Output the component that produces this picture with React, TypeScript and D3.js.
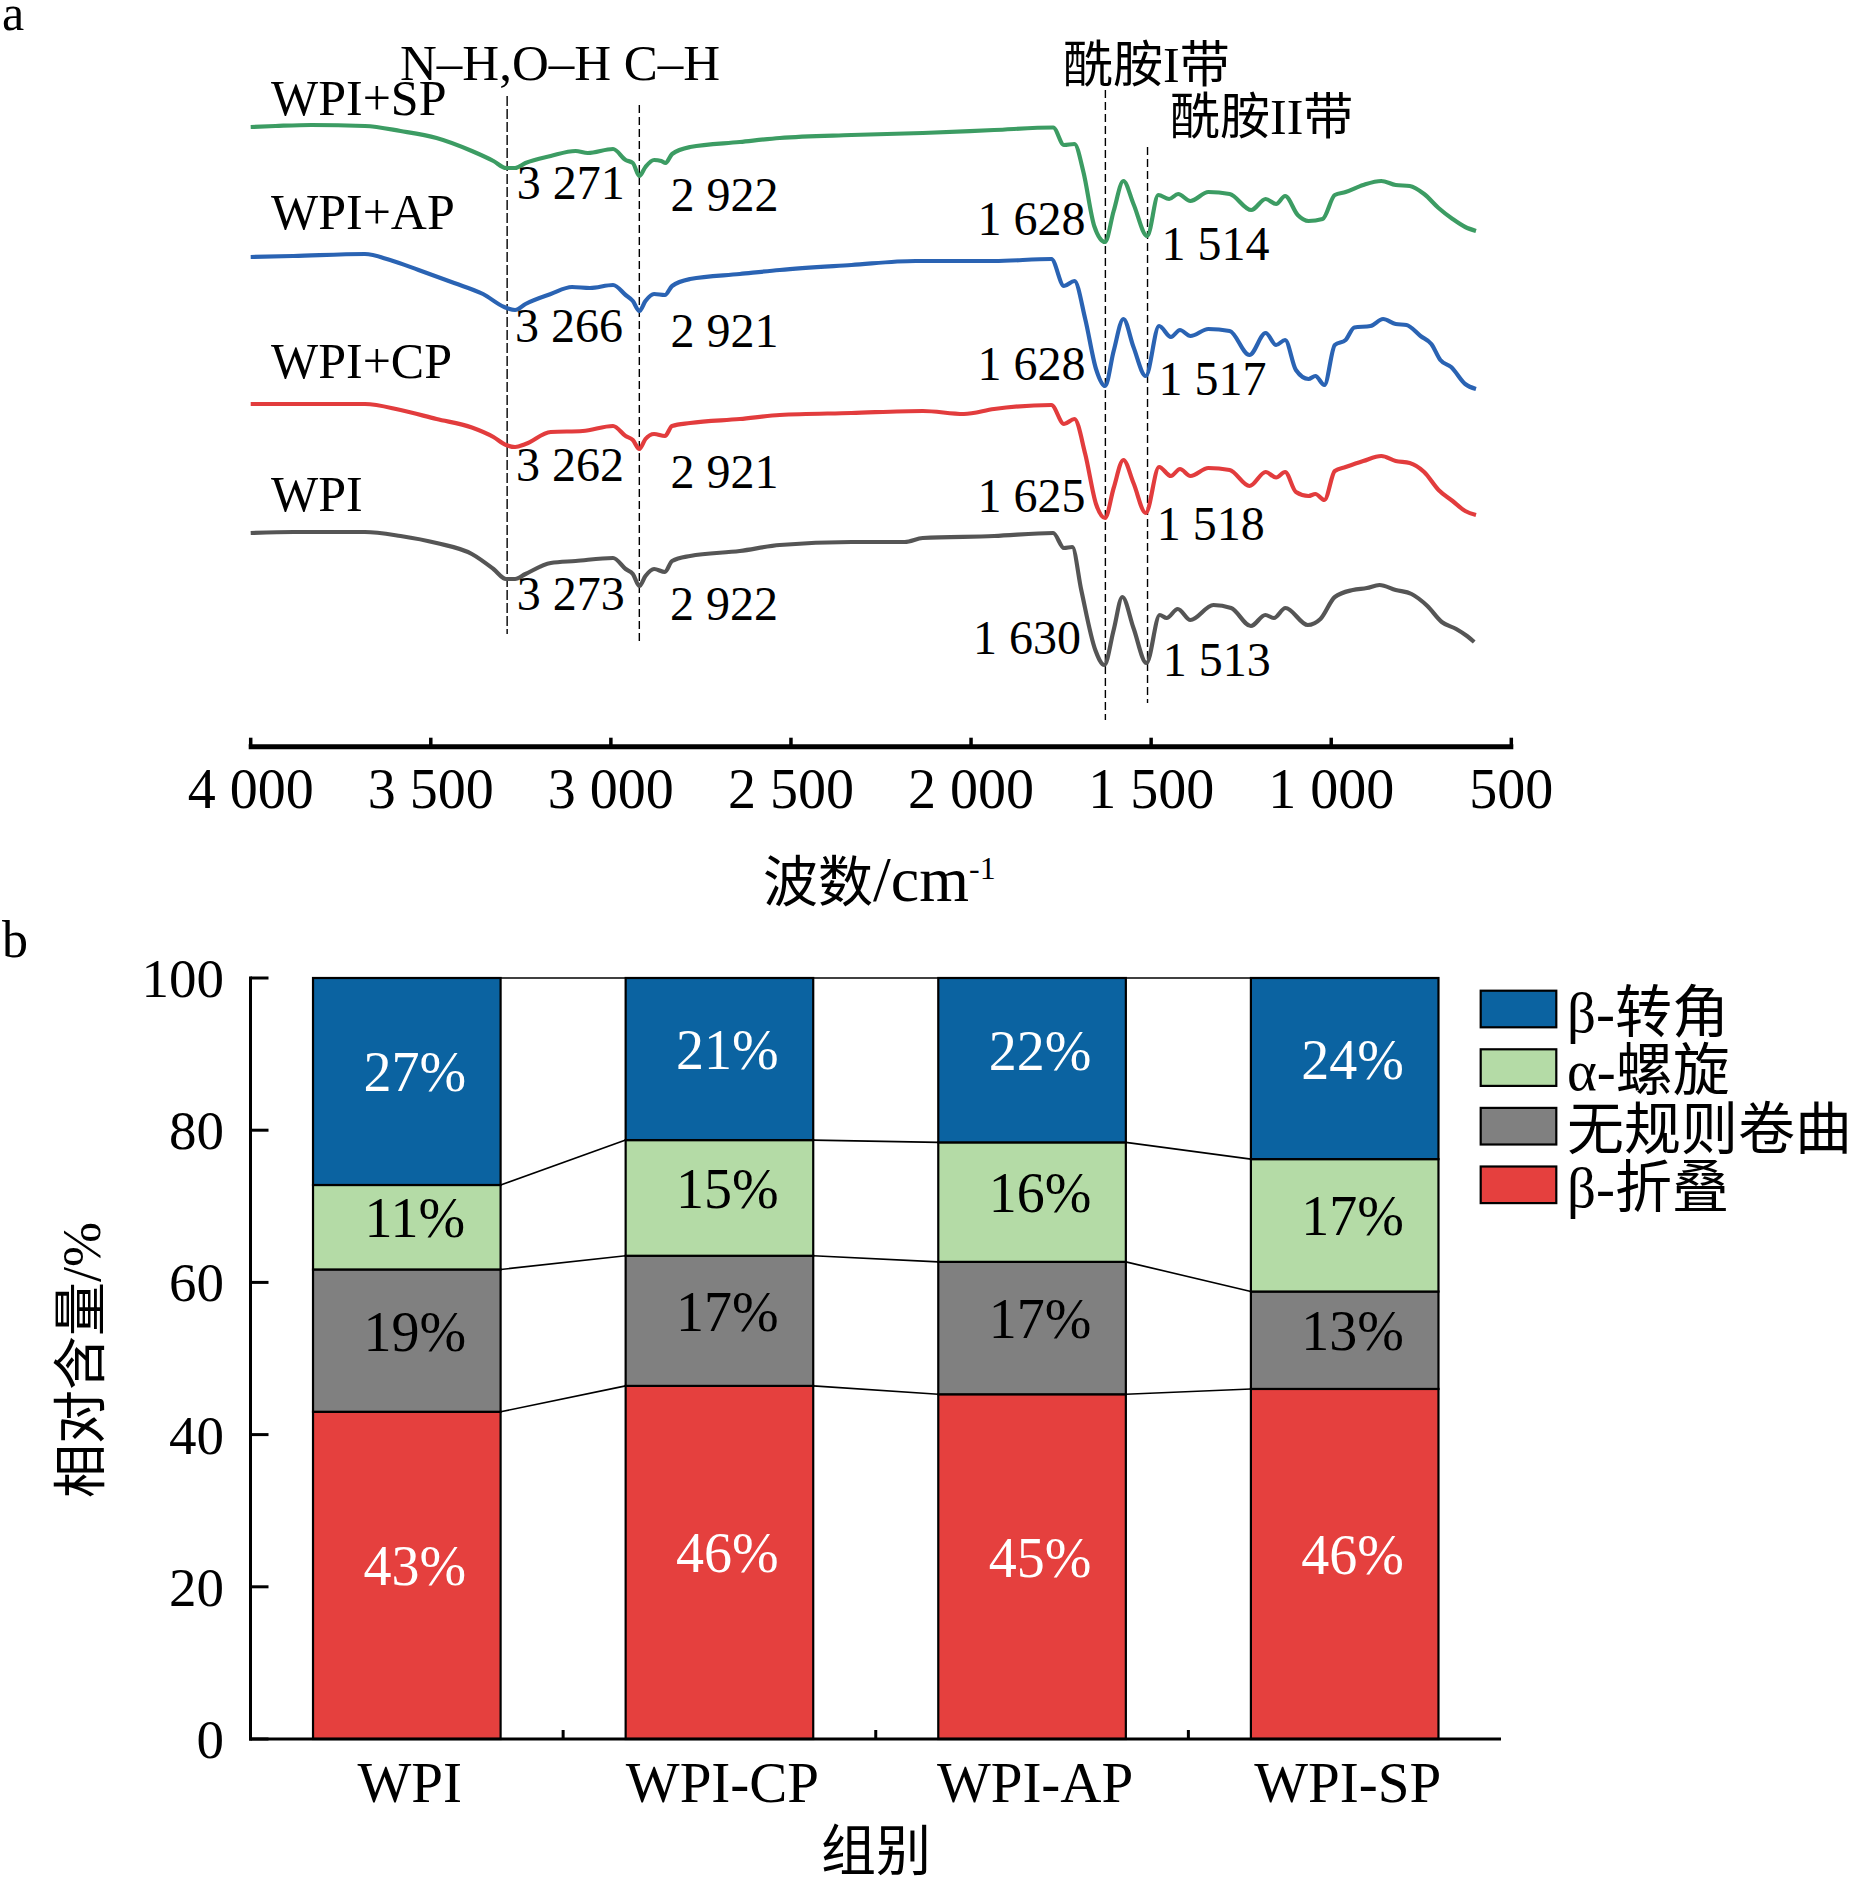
import React from "react";
import * as d3 from "d3";

const W = 1852;
const H = 1881;
const SERIF = "'Liberation Serif', 'Times New Roman', 'Noto Sans CJK SC', serif";

// ---------- Panel a: FTIR spectra (wavenumber cm-1, relative transmittance a.u.) ----------
const specSP: [number, number][] = [
  [4000, 62.3], [3931, 62.4], [3832, 62.5], [3683, 62.4], [3584, 61.9], [3484, 61.2], [3386, 59.9],
  [3326, 58.9], [3291, 58.2], [3266, 58.2], [3237, 58.7], [3167, 59.4], [3098, 59.9], [3064, 59.7],
  [2994, 60.1], [2959, 59.0], [2939, 58.7], [2921, 57.4], [2904, 58.3], [2880, 59.0], [2860, 58.9],
  [2848, 58.7], [2830, 59.6], [2780, 60.3], [2642, 60.8], [2531, 61.2], [2332, 61.5], [2134, 61.7],
  [1936, 62.0], [1772, 62.25], [1742, 60.5], [1713, 60.6], [1688, 57.8], [1658, 52.4], [1628, 50.8],
  [1604, 53.9], [1577, 56.9], [1549, 54.6], [1511, 51.4], [1480, 55.5], [1450, 55.1], [1425, 55.6],
  [1391, 54.9], [1341, 55.8], [1282, 55.6], [1222, 54.0], [1182, 55.1], [1153, 54.6], [1128, 55.4],
  [1093, 53.5], [1063, 52.9], [1024, 53.1], [990, 55.5], [960, 55.8], [911, 56.5], [861, 56.9],
  [821, 56.5], [782, 56.4], [742, 55.6], [702, 54.2], [663, 53.1], [628, 52.3], [598, 51.9],
];
const specAP: [number, number][] = [
  [4000, 49.3], [3881, 49.4], [3683, 49.6], [3613, 49.0], [3534, 48.0], [3435, 46.7], [3355, 45.6],
  [3296, 44.3], [3266, 44.0], [3237, 44.6], [3167, 45.6], [3108, 46.3], [3058, 46.2], [2994, 46.5],
  [2959, 45.5], [2939, 44.9], [2921, 43.9], [2904, 44.9], [2880, 45.6], [2850, 45.5], [2830, 46.4],
  [2780, 47.1], [2642, 47.6], [2531, 48.0], [2332, 48.5], [2154, 48.9], [1936, 48.9], [1777, 49.1],
  [1742, 46.4], [1713, 46.9], [1683, 43.1], [1653, 38.1], [1628, 36.4], [1604, 39.9], [1577, 43.1],
  [1549, 40.3], [1515, 37.4], [1478, 42.4], [1445, 41.3], [1420, 42.0], [1391, 41.4], [1341, 42.1],
  [1282, 41.9], [1227, 39.5], [1182, 41.7], [1153, 40.5], [1128, 41.0], [1098, 38.0], [1063, 37.1],
  [1044, 37.4], [1019, 36.5], [990, 40.5], [960, 41.0], [936, 42.25], [891, 42.4], [856, 43.1],
  [821, 42.6], [791, 42.5], [752, 41.4], [722, 40.6], [697, 39.0], [667, 38.3], [628, 36.6], [598, 36.1],
];
const specCP: [number, number][] = [
  [4000, 34.6], [3881, 34.6], [3683, 34.6], [3584, 34.0], [3484, 33.1], [3386, 32.25], [3326, 31.3],
  [3291, 30.5], [3266, 30.3], [3237, 30.6], [3167, 31.8], [3078, 31.9], [2994, 32.4], [2959, 31.4],
  [2939, 31.0], [2921, 30.1], [2904, 31.1], [2880, 31.6], [2850, 31.4], [2830, 32.4], [2780, 32.7],
  [2642, 33.1], [2531, 33.5], [2332, 33.7], [2134, 33.9], [2020, 33.6], [1936, 34.1], [1777, 34.5],
  [1742, 32.6], [1713, 33.1], [1683, 29.6], [1653, 24.6], [1628, 23.2], [1604, 26.2], [1577, 29.0],
  [1549, 26.7], [1515, 23.7], [1478, 28.3], [1445, 27.4], [1420, 28.1], [1391, 27.4], [1341, 28.2],
  [1282, 28.0], [1227, 26.4], [1182, 27.8], [1153, 27.25], [1128, 27.8], [1098, 25.8], [1063, 25.4],
  [1044, 25.6], [1019, 25.0], [990, 27.9], [960, 28.3], [911, 28.9], [861, 29.4], [821, 28.9],
  [782, 28.7], [742, 27.8], [702, 26.0], [663, 24.9], [628, 23.9], [598, 23.5],
];
const specWPI: [number, number][] = [
  [4000, 21.7], [3881, 21.8], [3683, 21.8], [3584, 21.4], [3484, 20.7], [3386, 19.6], [3326, 18.1],
  [3291, 17.1], [3266, 17.1], [3237, 17.6], [3167, 18.7], [3098, 18.9], [2994, 19.2], [2959, 18.1],
  [2939, 17.6], [2921, 16.4], [2904, 17.4], [2880, 18.1], [2850, 17.8], [2830, 18.9], [2780, 19.4],
  [2642, 19.9], [2531, 20.5], [2332, 20.8], [2184, 20.8], [2134, 21.2], [1936, 21.4], [1772, 21.7],
  [1742, 20.2], [1719, 20.3], [1694, 16.0], [1655, 10.0], [1630, 8.5], [1604, 12.0], [1580, 15.3],
  [1549, 12.2], [1513, 8.7], [1476, 13.5], [1457, 13.2], [1426, 14.1], [1391, 13.0], [1327, 14.5],
  [1278, 14.2], [1223, 12.4], [1183, 13.5], [1159, 13.2], [1127, 14.2], [1065, 12.5], [1030, 13.1],
  [990, 15.3], [940, 16.0], [901, 16.2], [866, 16.5], [821, 16.0], [777, 15.6], [733, 14.4],
  [693, 12.8], [653, 12.1], [623, 11.4], [603, 10.8],
];

const spectraNames = ["WPI+SP", "WPI+AP", "WPI+CP", "WPI"];
const spectraColors = ["#3c9c63", "#2a63b3", "#e23c3d", "#555555"];
const spectraData = [specSP, specAP, specCP, specWPI];
const peaksSP = [3271, 2922, 1628, 1514];
const peaksAP = [3266, 2921, 1628, 1517];
const peaksCP = [3262, 2921, 1625, 1518];
const peaksWPI = [3273, 2922, 1630, 1513];
const spectraPeaks = [peaksSP, peaksAP, peaksCP, peaksWPI];
const guideLines = [3288, 2921, 1627, 1510];
const xTicksA = [4000, 3500, 3000, 2500, 2000, 1500, 1000, 500];

// ---------- Panel b: secondary structure (%) ----------
const groups = ["WPI", "WPI-CP", "WPI-AP", "WPI-SP"];
const structureNames = ["β-折叠", "无规则卷曲", "α-螺旋", "β-转角"]; // bottom -> top
const betaSheet = [43.0, 46.4, 45.3, 46.0];
const randomCoil = [18.7, 17.1, 17.4, 12.8];
const alphaHelix = [11.1, 15.2, 15.7, 17.4];
const betaTurn = [27.2, 21.3, 21.6, 23.8];
const structureColors = ["#e5403e", "#808080", "#b4dba6", "#0b63a1"];
const labelColors = ["#ffffff", "#000000", "#000000", "#ffffff"];
const yTicksB = [0, 20, 40, 60, 80, 100];

// ---------- layout ----------
const LA = { left: 250.7, right: 1511.3, axisY: 746.7 };
const LB = { left: 250.5, right: 1501, top: 978, bottom: 1739 };

const spaceFmt = d3.formatLocale({ decimal: ".", thousands: " ", grouping: [3], currency: ["", ""] }).format(",");

const peakLayout: [number, number, string][][] = [
  [[516.8, 199, "start"], [670.4, 211.4, "start"], [1085.4, 234.6, "end"], [1161.4, 259.6, "start"]],
  [[515, 341.8, "start"], [670.4, 347.1, "start"], [1085.4, 380, "end"], [1158.6, 395.4, "start"]],
  [[516, 481, "start"], [670.4, 488.2, "start"], [1085.4, 512.1, "end"], [1156.8, 540, "start"]],
  [[516.8, 609.6, "start"], [670, 620.4, "start"], [1081, 654, "end"], [1162.7, 676, "start"]],
];
const nameLayout: [number, number][] = [[271, 115], [271, 229], [271, 377.5], [271, 510.7]];
const guideLayout: [number, number, string][] = [[96, 634, "10,3"], [105, 641, "8,4"], [90, 720, "8,4"], [147, 703, "8,4"]];

export default function App() {
  const xA = d3.scaleLinear().domain([4000, 500]).range([LA.left, LA.right]);
  const yA = d3.scaleLinear().domain([0, 75]).range([750, 0]);
  const line = d3
    .line<[number, number]>()
    .x((d) => xA(d[0]))
    .y((d) => yA(d[1]))
    .curve(d3.curveMonotoneX);

  const xB = d3.scaleBand<string>().domain(groups).range([LB.left, LB.right]).paddingInner(0.4).paddingOuter(0.2);
  const yB = d3.scaleLinear().domain([0, 100]).range([LB.bottom, LB.top]);
  const table = groups.map((g, i) => ({
    group: g,
    s0: betaSheet[i],
    s1: randomCoil[i],
    s2: alphaHelix[i],
    s3: betaTurn[i],
  }));
  const keys = ["s0", "s1", "s2", "s3"];
  const stacked = d3.stack<any>().keys(keys)(table);
  const bw = xB.bandwidth();

  return (
    <svg
      width={W}
      height={H}
      viewBox={`0 0 ${W} ${H}`}
      style={{ position: "absolute", left: 0, top: 0, background: "#fff" }}
      fontFamily={SERIF}
    >
      <rect x={0} y={0} width={W} height={H} fill="#fff" />

      {/* ===== Panel a ===== */}
      <text x={2} y={30} fontSize={50}>a</text>

      {guideLines.map((wn, i) => (
        <line
          key={"g" + i}
          x1={xA(wn)}
          x2={xA(wn)}
          y1={guideLayout[i][0]}
          y2={guideLayout[i][1]}
          stroke="#000"
          strokeWidth={1.4}
          strokeDasharray={guideLayout[i][2]}
        />
      ))}

      {spectraData.map((d, i) => (
        <path key={"s" + i} d={line(d) || ""} fill="none" stroke={spectraColors[i]} strokeWidth={4.2} strokeLinejoin="round" />
      ))}

      {spectraNames.map((n, i) => (
        <text key={"n" + i} x={nameLayout[i][0]} y={nameLayout[i][1]} fontSize={50}>
          {n}
        </text>
      ))}

      {spectraPeaks.map((pk, i) =>
        pk.map((wn, j) => (
          <text
            key={"p" + i + "-" + j}
            x={peakLayout[i][j][0]}
            y={peakLayout[i][j][1]}
            fontSize={48}
            textAnchor={peakLayout[i][j][2] as any}
          >
            {spaceFmt(wn)}
          </text>
        ))
      )}

      <text x={400} y={80} fontSize={51}>N–H,O–H C–H</text>
      <text x={1063} y={82} fontSize={50}>酰胺I带</text>
      <text x={1170} y={134} fontSize={50}>酰胺II带</text>

      {/* x axis a */}
      <line x1={LA.left - 2} x2={LA.right + 2} y1={LA.axisY} y2={LA.axisY} stroke="#000" strokeWidth={5} />
      {xTicksA.map((t) => (
        <g key={"xt" + t}>
          <line x1={xA(t)} x2={xA(t)} y1={LA.axisY} y2={LA.axisY - 9} stroke="#000" strokeWidth={3.5} />
          <text x={xA(t)} y={808} fontSize={56} textAnchor="middle">
            {spaceFmt(t)}
          </text>
        </g>
      ))}
      <text x={763} y={901}>
        <tspan fontSize={55}>波数</tspan>
        <tspan fontSize={64}>/cm</tspan>
        <tspan dy={-22} fontSize={32}>-1</tspan>
      </text>

      {/* ===== Panel b ===== */}
      <text x={2} y={957} fontSize={52}>b</text>

      {/* connecting lines */}
      {stacked.map((layer, k) =>
        layer.slice(0, -1).map((seg, i) => {
          const next = layer[i + 1];
          return (
            <line
              key={"c" + k + "-" + i}
              x1={(xB(groups[i]) as number) + bw}
              y1={yB(seg[1])}
              x2={xB(groups[i + 1]) as number}
              y2={yB(next[1])}
              stroke="#000"
              strokeWidth={1.6}
            />
          );
        })
      )}

      {stacked.map((layer, k) =>
        layer.map((seg, i) => (
          <rect
            key={"r" + k + "-" + i}
            x={xB(groups[i]) as number}
            y={yB(seg[1])}
            width={bw}
            height={yB(seg[0]) - yB(seg[1])}
            fill={structureColors[k]}
            stroke="#000"
            strokeWidth={2.2}
          />
        ))
      )}

      {stacked.map((layer, k) =>
        layer.map((seg, i) => (
          <text
            key={"l" + k + "-" + i}
            x={(xB(groups[i]) as number) + bw / 2 + 8}
            y={(yB(seg[0]) + yB(seg[1])) / 2 + 10}
            fontSize={56}
            textAnchor="middle"
            fill={labelColors[k]}
          >
            {Math.round(seg[1] - seg[0]) + "%"}
          </text>
        ))
      )}

      {/* axes b */}
      <line x1={LB.left} x2={LB.left} y1={LB.top - 1.5} y2={LB.bottom + 1.5} stroke="#000" strokeWidth={3} />
      <line x1={LB.left - 1.5} x2={LB.right} y1={LB.bottom} y2={LB.bottom} stroke="#000" strokeWidth={3} />
      {yTicksB.map((t) => (
        <g key={"yt" + t}>
          <line x1={LB.left} x2={LB.left + 18} y1={yB(t)} y2={yB(t)} stroke="#000" strokeWidth={3} />
          <text x={224} y={yB(t) + 19} fontSize={55} textAnchor="end">
            {t}
          </text>
        </g>
      ))}
      {groups.slice(1).map((g) => {
        const xb = (xB(g) as number) - (xB.step() - bw) / 2;
        return <line key={"xb" + g} x1={xb} x2={xb} y1={LB.bottom} y2={LB.bottom - 9} stroke="#000" strokeWidth={3} />;
      })}
      {groups.map((g) => (
        <text key={"xl" + g} x={(xB(g) as number) + bw / 2 + 3} y={1802} fontSize={57} textAnchor="middle">
          {g}
        </text>
      ))}
      <text x={876} y={1870} fontSize={55} textAnchor="middle">组别</text>
      <text
        transform="translate(82,1360) rotate(-90)"
        fontSize={54}
        textAnchor="middle"
        dominantBaseline="central"
      >
        相对含量/%
      </text>

      {/* legend */}
      {[3, 2, 1, 0].map((k, i) => (
        <g key={"lg" + k}>
          <rect x={1480.7} y={990.7 + i * 58.6} width={75.6} height={36.6} fill={structureColors[k]} stroke="#000" strokeWidth={2.2} />
          <text x={1567} y={990.7 + i * 58.6 + 18.3 + 3} fontSize={57} dominantBaseline="central">
            {structureNames[k]}
          </text>
        </g>
      ))}
    </svg>
  );
}
